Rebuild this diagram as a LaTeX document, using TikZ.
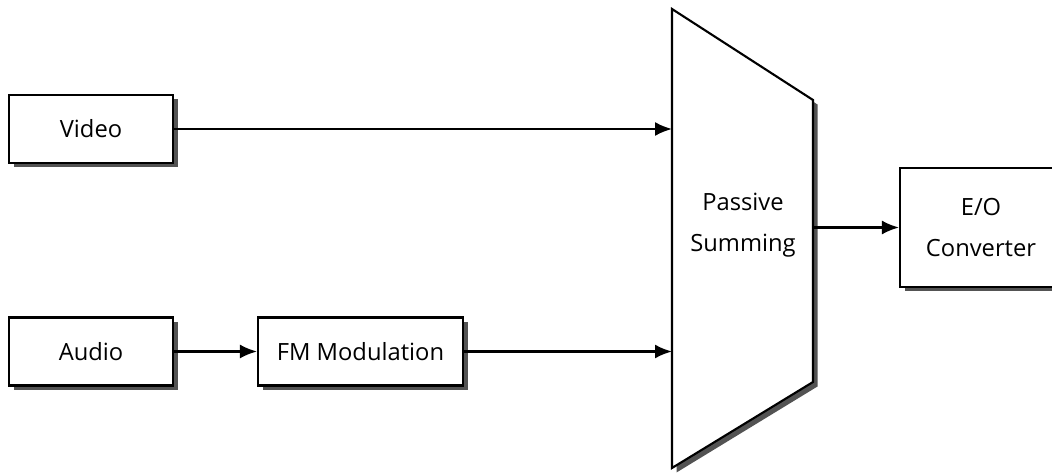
\documentclass[tikz,border=0pt]{standalone}
\usepackage{fontspec}
\setmainfont{Open Sans}
\usetikzlibrary{arrows.meta,positioning,shadows}

\begin{document}
\begin{tikzpicture}[->,>={Latex[length=3.4mm,width=2.8mm]},line width=1.2pt,
      node distance=3cm,
      shade/.style={drop shadow={shadow xshift=0.09cm,shadow yshift=-0.09cm,
          opacity=0.9,fill=black!75}},
      block/.style={draw,fill=white,shade,minimum width=3.28cm,
          minimum height=1.36cm,align=center,
          font=\fontsize{13.5}{23}\selectfont}]
    \useasboundingbox (0,0) rectangle (21.04,-9.48);
    \node[block] (video) at (1.82,-2.58) {Video};
    \node[block] (audio) [below of=video,node distance=4.45cm] {Audio};
    \node[block,minimum width=4.1cm] (fm) [right of=audio,node distance=5.39cm]
      {FM Modulation};
    % summing stage
    \coordinate (s1) at (13.44,-0.18);
    \coordinate (s2) at (16.26,-2.0);
    \coordinate (s3) at (16.26,-7.64);
    \coordinate (s4) at (13.44,-9.36);
    \draw[-,fill=white,shade] (s1) -- (s2) -- (s3) -- (s4) -- cycle;
    \node[align=center,font=\fontsize{13.5}{23}\selectfont] (sum) at (14.86,-4.5)
      {Passive\\Summing};
    \node[block,minimum width=3.24cm,minimum height=2.38cm] (eo) at (19.62,-4.55)
      {E/O\\Converter};
    \draw (video) -- (video -| s1);
    \draw (audio) -- (fm);
    \draw (fm) -- (fm -| s1);
    \draw (s2 |- eo) -- (eo);
  \end{tikzpicture}
\end{document}
